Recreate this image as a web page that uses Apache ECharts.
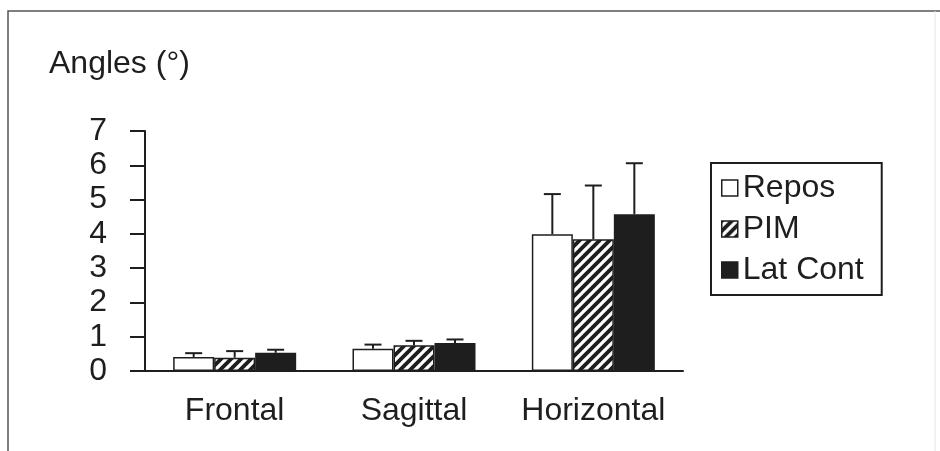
<!DOCTYPE html>
<html>
<head>
<meta charset="utf-8">
<script src="https://cdn.jsdelivr.net/npm/echarts@6/dist/echarts.min.js"></script>
<style>
  html, body { margin: 0; padding: 0; background: #fff; }
  #chart { width: 940px; height: 451px; }
</style>
</head>
<body>
<div id="chart"></div>
<script>
let categories = ['Frontal', 'Sagittal', 'Horizontal'];
let seriesNames = ['Repos', 'PIM', 'Lat Cont'];
let reposMean = [0.41, 0.65, 3.99];
let pimMean = [0.39, 0.75, 3.84];
let latMean = [0.53, 0.82, 4.57];
let reposSd = [0.11, 0.12, 1.17];
let pimSd = [0.19, 0.13, 1.57];
let latSd = [0.09, 0.10, 1.49];
let yTicks = [0, 1, 2, 3, 4, 5, 6, 7];

let ink = '#1e1e1e';
let font = '"Liberation Sans", Arial, sans-serif';
let barW = 41;

// hatch tile for PIM
let hatch = (() => {
    let c = document.createElement('canvas');
    c.width = 10;
    c.height = 10;
    let g = c.getContext('2d');
    g.fillStyle = '#fff';
    g.fillRect(0, 0, 10, 10);
    g.strokeStyle = ink;
    g.lineWidth = 3.8;
    g.beginPath();
    g.moveTo(-5, 5); g.lineTo(5, -5);
    g.moveTo(0, 10); g.lineTo(10, 0);
    g.moveTo(5, 15); g.lineTo(15, 5);
    g.stroke();
    return c;
})();

let fills = ['#fff', { image: hatch, repeat: 'repeat' }, ink];
let means = [reposMean, pimMean, latMean];
let sds = [reposSd, pimSd, latSd];

let errSeries = (i) => ({
    type: 'custom',
    z: 5,
    silent: true,
    data: categories.map((c, k) => [k, means[i][k], means[i][k] + sds[i][k]]),
    renderItem: (params, api) => {
        let off = (i - 1) * barW;
        let lo = api.coord([api.value(0), api.value(1)]);
        let hi = api.coord([api.value(0), api.value(2)]);
        let x = lo[0] + off;
        return {
            type: 'group',
            children: [
                { type: 'line', shape: { x1: x, y1: lo[1], x2: x, y2: hi[1] }, style: { stroke: ink, lineWidth: 2 } },
                { type: 'line', shape: { x1: x - 8.5, y1: hi[1], x2: x + 8.5, y2: hi[1] }, style: { stroke: ink, lineWidth: 2 } }
            ]
        };
    }
});

let option = {
    animation: false,
    backgroundColor: '#fff',
    textStyle: { fontFamily: font, color: ink },
    title: {
        text: 'Angles (°)',
        left: 44,
        top: 43,
        textStyle: { fontFamily: font, fontSize: 32, fontWeight: 'normal', color: ink }
    },
    legend: {
        orient: 'vertical',
        left: 711,
        top: 163,
        padding: [9, 18, 9, 10],
        itemGap: 9,
        itemWidth: 16,
        itemHeight: 16,
        borderColor: ink,
        borderWidth: 2,
        borderRadius: 0,
        icon: 'rect',
        itemStyle: { borderColor: ink, borderWidth: 1.5 },
        textStyle: { fontFamily: font, fontSize: 32, color: ink },
        data: seriesNames
    },
    grid: { left: 145, right: 257, top: 131, bottom: 80 },
    xAxis: {
        type: 'category',
        data: categories,
        axisLine: { lineStyle: { color: ink, width: 2 } },
        axisTick: { length: 13, lineStyle: { color: ink, width: 2 } },
        axisLabel: { interval: 0, hideOverlap: false, fontFamily: font, fontSize: 32, color: ink, margin: 24 }
    },
    yAxis: {
        type: 'value',
        min: yTicks[0],
        max: yTicks[yTicks.length - 1],
        interval: 1,
        axisLine: { show: true, lineStyle: { color: ink, width: 2 } },
        axisTick: { show: true, length: 15, lineStyle: { color: ink, width: 2 } },
        splitLine: { show: false },
        axisLabel: { fontFamily: font, fontSize: 32, color: ink, margin: 38 }
    },
    graphic: [
        { type: 'polyline', shape: { points: [[8, 451], [8, 11], [940, 11]] }, style: { stroke: '#555', lineWidth: 1.5, fill: null } },
        { type: 'line', shape: { x1: 935, y1: 11, x2: 935, y2: 451 }, style: { stroke: '#e4e4e4', lineWidth: 1 } }
    ],
    series: [
        ...seriesNames.map((name, i) => ({
            name: name,
            type: 'bar',
            barWidth: barW,
            barGap: '0%',
            data: means[i],
            itemStyle: { color: fills[i], borderColor: ink, borderWidth: 1.5 }
        })),
        errSeries(0),
        errSeries(1),
        errSeries(2)
    ]
};

let chart = echarts.init(document.getElementById('chart'));
chart.setOption(option);
</script>
</body>
</html>
